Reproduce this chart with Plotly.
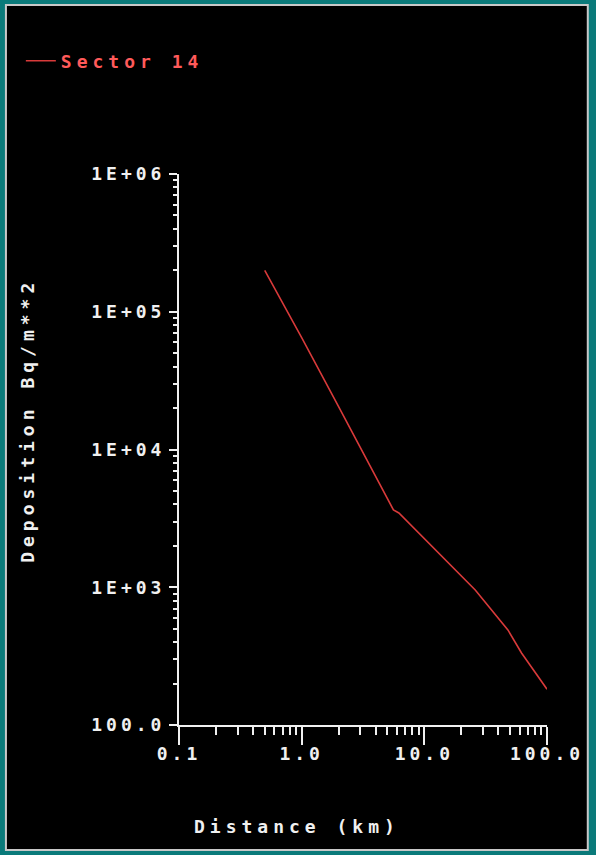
import plotly.graph_objects as go

# Data
distance_km = [0.5, 1.0, 2.0, 3.0, 5.6, 6.2, 10.0, 20.0, 26.0, 48.0, 62.0, 100.0]
deposition = [2.0e5, 6.5e4, 2.05e4, 1.04e4, 3640, 3460, 2250, 1210, 955, 490, 333, 182]
series_name = "Sector 14"
x_tickvals = [0.1, 1.0, 10.0, 100.0]
x_ticktext = ["0.1", "1.0", "10.0", "100.0"]
y_tickvals = [1e2, 1e3, 1e4, 1e5, 1e6]
y_ticktext = ["100.0", "1E+03", "1E+04", "1E+05", "1E+06"]

W, H = 596, 855
L, R, T, B = 179, 47, 174, 130
PW, PH = W - L - R, H - T - B

def px(x):
    return (x - L) / PW

def py(y):
    return (H - B - y) / PH

def spaced(s, sp=4):
    return f'<span style="letter-spacing:{sp}px">{s}</span>'

FONT = "DejaVu Sans Mono"
WHITE = "#f0f0f0"

fig = go.Figure()
fig.add_trace(go.Scatter(
    x=distance_km, y=deposition, mode="lines", name=spaced(series_name, 5),
    line=dict(color="#d83a3a", width=1.6),
))

fig.update_layout(
    width=W, height=H,
    margin=dict(l=L, r=R, t=T, b=B, pad=0),
    paper_bgcolor="#0a7a7a",
    plot_bgcolor="#000000",
    font=dict(family=FONT, color=WHITE, size=18, weight="bold"),
    showlegend=True,
    legend=dict(x=px(20), y=py(61), xanchor="left", yanchor="middle",
                bgcolor="rgba(0,0,0,0)", font=dict(color="#ff5a5a", size=18, family=FONT, weight="bold")),
    xaxis=dict(type="log", range=[-1, 2], showgrid=False, zeroline=False,
               showline=True, linecolor=WHITE, linewidth=2,
               ticks="outside", ticklen=18, tickwidth=2, tickcolor=WHITE,
               tickvals=x_tickvals, ticktext=[spaced(t) for t in x_ticktext],
               ticklabelstandoff=-7,
               minor=dict(ticks="outside", ticklen=8, tickwidth=2, tickcolor=WHITE, dtick="D1", showgrid=False)),
    yaxis=dict(type="log", range=[2, 6], showgrid=False, zeroline=False,
               showline=True, linecolor=WHITE, linewidth=2,
               ticks="outside", ticklen=8, tickwidth=2, tickcolor=WHITE,
               tickvals=y_tickvals, ticktext=[spaced(t) for t in y_ticktext], ticklabelstandoff=0,
               minor=dict(ticks="outside", ticklen=4, tickwidth=2, tickcolor=WHITE, dtick="D1", showgrid=False)),
    shapes=[dict(type="rect", xref="paper", yref="paper", layer="below",
                 x0=px(5), x1=px(590), y0=py(850), y1=py(5),
                 fillcolor="#000000", line=dict(color="#c8c8c8", width=2))],
    annotations=[
        dict(text=spaced("Distance (km)", 5), xref="paper", yref="paper", x=px(298), y=py(826),
             showarrow=False, xanchor="center", yanchor="middle",
             font=dict(family=FONT, size=18, color=WHITE, weight="bold")),
        dict(text=spaced("Deposition Bq/m**2", 5), xref="paper", yref="paper", x=px(26), y=py(420),
             showarrow=False, xanchor="center", yanchor="middle", textangle=-90,
             font=dict(family=FONT, size=18, color=WHITE, weight="bold")),
    ],
)

fig.write_html("out.html", config={"displayModeBar": False},
               post_script="document.body.style.margin='0';document.body.style.background='#000';")
